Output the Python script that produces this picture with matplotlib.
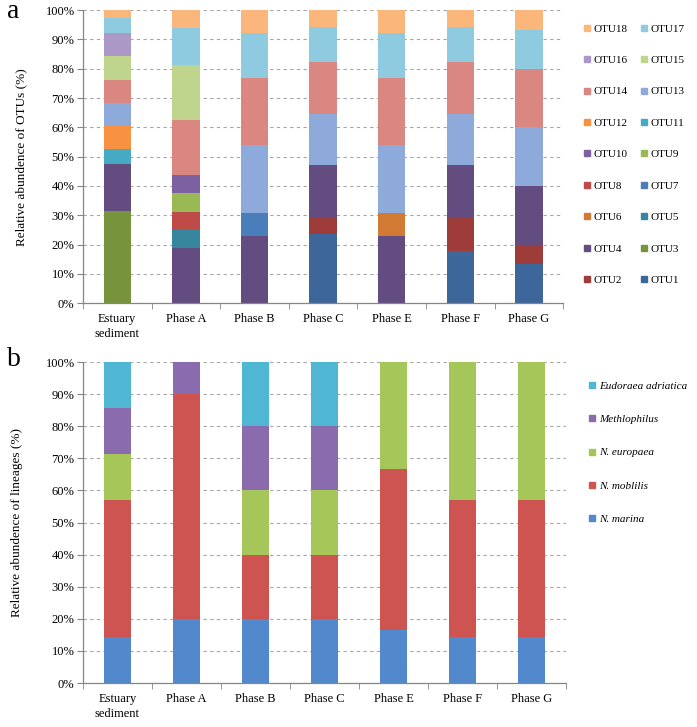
import numpy as np
import matplotlib
matplotlib.use("Agg")
import matplotlib.pyplot as plt
from matplotlib.lines import Line2D

plt.rcParams['font.family'] = ['Liberation Serif', 'DejaVu Serif']

samples = ["Estuary\nsediment", "Phase A", "Phase B", "Phase C", "Phase E", "Phase F", "Phase G"]

# panel a: relative abundance of OTUs (%), OTU1..OTU18
otu_names = ["OTU%d" % i for i in range(1, 19)]
otu_colors = ["#3D679A", "#9E3C3A", "#77933C", "#634C80", "#36879E", "#D07A34",
              "#4A7EBB", "#BE4B48", "#98B954", "#7D60A0", "#46AAC5", "#F69240",
              "#8EAADA", "#DA8782", "#BFD58E", "#AC98C7", "#8ECAE0", "#FBB77B"]
otu_values = [
    # Est    A      B      C      E      F      G
    [0.0,   0.0,   0.0,   23.53, 0.0,   17.65, 13.33],   # OTU1
    [0.0,   0.0,   0.0,   5.88,  0.0,   11.76, 6.67],    # OTU2
    [31.58, 0.0,   0.0,   0.0,   0.0,   0.0,   0.0],     # OTU3
    [15.79, 18.75, 23.08, 17.65, 23.08, 17.65, 20.00],   # OTU4
    [0.0,   6.25,  0.0,   0.0,   0.0,   0.0,   0.0],     # OTU5
    [0.0,   0.0,   0.0,   0.0,   7.69,  0.0,   0.0],     # OTU6
    [0.0,   0.0,   7.69,  0.0,   0.0,   0.0,   0.0],     # OTU7
    [0.0,   6.25,  0.0,   0.0,   0.0,   0.0,   0.0],     # OTU8
    [0.0,   6.25,  0.0,   0.0,   0.0,   0.0,   0.0],     # OTU9
    [0.0,   6.25,  0.0,   0.0,   0.0,   0.0,   0.0],     # OTU10
    [5.26,  0.0,   0.0,   0.0,   0.0,   0.0,   0.0],     # OTU11
    [7.89,  0.0,   0.0,   0.0,   0.0,   0.0,   0.0],     # OTU12
    [7.89,  0.0,   23.08, 17.65, 23.08, 17.65, 20.00],   # OTU13
    [7.89,  18.75, 23.08, 17.65, 23.08, 17.65, 20.00],   # OTU14
    [7.89,  18.75, 0.0,   0.0,   0.0,   0.0,   0.0],     # OTU15
    [7.89,  0.0,   0.0,   0.0,   0.0,   0.0,   0.0],     # OTU16
    [5.26,  12.50, 15.38, 11.76, 15.38, 11.76, 13.33],   # OTU17
    [2.63,  6.25,  7.69,  5.88,  7.69,  5.88,  6.67],    # OTU18
]

# panel b: relative abundance of lineages (%)
lineage_names = ["N. marina", "N. moblilis", "N. europaea", "Methlophilus", "Eudoraea adriatica"]
lineage_colors = ["#5289CD", "#CD5450", "#A5C75A", "#8A6BAE", "#4FB6D4"]
lineage_values = [
    [14.29, 20.0, 20.0, 20.0, 16.67, 14.29, 14.29],   # N. marina
    [42.86, 70.0, 20.0, 20.0, 50.00, 42.86, 42.86],   # N. moblilis
    [14.29, 0.0,  20.0, 20.0, 33.33, 42.86, 42.86],   # N. europaea
    [14.29, 10.0, 20.0, 20.0, 0.0,   0.0,   0.0],     # Methlophilus
    [14.28, 0.0,  20.0, 20.0, 0.0,   0.0,   0.0],     # Eudoraea adriatica
]


def style_axes(ax):
    x = np.arange(len(samples))
    ax.set_xlim(-0.5, len(samples) - 0.5)
    ax.set_ylim(0, 100)
    ax.set_yticks(np.arange(0, 101, 10))
    ax.set_yticklabels(["%d%%" % v for v in range(0, 101, 10)], fontsize=9)
    ax.set_xticks(x)
    ax.set_xticklabels(samples, fontsize=9, linespacing=1.4)
    ax.set_xticks(np.arange(-0.5, len(samples)), minor=True)
    ax.tick_params(axis='x', which='major', length=0, pad=7)
    ax.tick_params(axis='x', which='minor', length=4, color='#868686', direction='out')
    ax.tick_params(axis='y', length=4, color='#868686', direction='out', pad=2)
    for s in ['top', 'right']:
        ax.spines[s].set_visible(False)
    for s in ['left', 'bottom']:
        ax.spines[s].set_color('#868686')
        ax.spines[s].set_linewidth(0.9)
    ax.yaxis.grid(True, linestyle=(0, (3, 3)), color='#A6A6A6', linewidth=0.8)
    ax.set_axisbelow(True)


fig = plt.figure(figsize=(6.97, 7.27), dpi=100)

# ---- panel a
ax1 = fig.add_axes([0.119, 0.583, 0.689, 0.403])
x = np.arange(len(samples))
bottom = np.zeros(len(samples))
for name, col, vals in zip(otu_names, otu_colors, otu_values):
    vals = np.array(vals)
    ax1.bar(x, vals, 0.4, bottom=bottom, color=col, label=name)
    bottom += vals
style_axes(ax1)
ax1.set_ylabel("Relative abundence of OTUs (%)", fontsize=9.5, labelpad=13)

h1 = [Line2D([], [], marker='s', linestyle='none', markersize=4.5,
             markerfacecolor=c, markeredgecolor=c) for c in otu_colors]
order = list(range(17, -1, -2)) + list(range(16, -1, -2))
fig.legend([h1[i] for i in order], [otu_names[i] for i in order],
           loc='upper left', bbox_to_anchor=(0.829, 0.975), ncol=2,
           frameon=False, fontsize=8, labelspacing=1.95, handlelength=0.7,
           handletextpad=0.25, columnspacing=1.1, borderpad=0)

fig.text(0.010, 0.975, "a", fontsize=20, va='baseline', ha='left')

# ---- panel b
ax2 = fig.add_axes([0.119, 0.0605, 0.693, 0.4415])
bottom = np.zeros(len(samples))
for name, col, vals in zip(lineage_names, lineage_colors, lineage_values):
    vals = np.array(vals)
    ax2.bar(x, vals, 0.4, bottom=bottom, color=col, label=name)
    bottom += vals
style_axes(ax2)
ax2.set_ylabel("Relative abundence of lineages (%)", fontsize=9.5, labelpad=16)

h2 = [Line2D([], [], marker='s', linestyle='none', markersize=4.5,
             markerfacecolor=c, markeredgecolor=c) for c in lineage_colors]
fig.legend(h2[::-1], lineage_names[::-1], loc='upper left',
           bbox_to_anchor=(0.836, 0.483), frameon=False,
           prop={'size': 8, 'style': 'italic'}, labelspacing=2.1,
           handlelength=0.7, handletextpad=0.3, borderpad=0)

fig.text(0.010, 0.4966, "b", fontsize=20, va='baseline', ha='left')

fig.savefig("out.png", dpi=100)
